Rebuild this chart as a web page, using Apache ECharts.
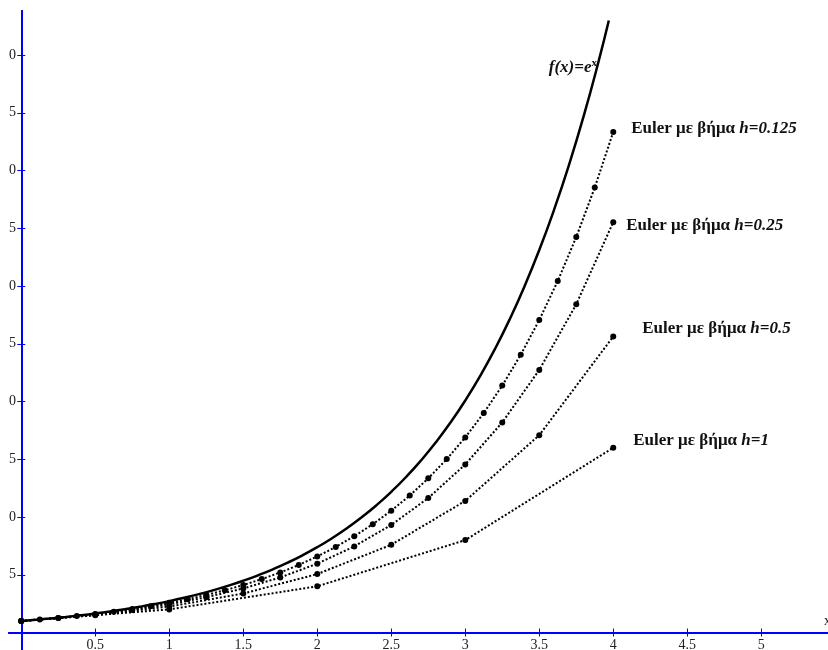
<!DOCTYPE html>
<html>
<head>
<meta charset="utf-8">
<script src="https://cdn.jsdelivr.net/npm/echarts@6/dist/echarts.min.js"></script>
<style>
  html, body { margin: 0; padding: 0; background: #ffffff; }
  #chart { width: 828px; height: 650px; }
</style>
</head>
<body>
<div id="chart"></div>
<script>
// Exact solution f(x) = e^x, sampled along x
const expX = [0, 0.1, 0.2, 0.3, 0.4, 0.5, 0.6, 0.7, 0.8, 0.9, 1.0, 1.1, 1.2, 1.3, 1.4, 1.5, 1.6, 1.7, 1.8, 1.9,
              2.0, 2.1, 2.2, 2.3, 2.4, 2.5, 2.6, 2.7, 2.8, 2.9, 3.0, 3.1, 3.2, 3.3, 3.4, 3.5, 3.6, 3.7, 3.8, 3.9, 3.97];
const expY = [1, 1.1052, 1.2214, 1.3499, 1.4918, 1.6487, 1.8221, 2.0138, 2.2255, 2.4596, 2.7183, 3.0042, 3.3201,
              3.6693, 4.0552, 4.4817, 4.953, 5.4739, 6.0496, 6.6859, 7.3891, 8.1662, 9.025, 9.9742, 11.023, 12.182,
              13.464, 14.88, 16.445, 18.174, 20.086, 22.198, 24.533, 27.113, 29.964, 33.115, 36.598, 40.447,
              44.701, 49.402, 52.985];

// Euler approximations, step h = 1
const eulerX1 = [0, 1, 2, 3, 4];
const eulerY1 = [1, 2, 4, 8, 16];

// step h = 0.5
const eulerX05 = [0, 0.5, 1, 1.5, 2, 2.5, 3, 3.5, 4];
const eulerY05 = [1, 1.5, 2.25, 3.375, 5.0625, 7.594, 11.391, 17.086, 25.629];

// step h = 0.25
const eulerX025 = [0, 0.25, 0.5, 0.75, 1, 1.25, 1.5, 1.75, 2, 2.25, 2.5, 2.75, 3, 3.25, 3.5, 3.75, 4];
const eulerY025 = [1, 1.25, 1.5625, 1.9531, 2.4414, 3.0518, 3.8147, 4.7684, 5.9605, 7.4506, 9.3132, 11.642,
                   14.552, 18.19, 22.737, 28.422, 35.527];

// step h = 0.125
const eulerX0125 = [0, 0.125, 0.25, 0.375, 0.5, 0.625, 0.75, 0.875, 1, 1.125, 1.25, 1.375, 1.5, 1.625, 1.75,
                    1.875, 2, 2.125, 2.25, 2.375, 2.5, 2.625, 2.75, 2.875, 3, 3.125, 3.25, 3.375, 3.5, 3.625,
                    3.75, 3.875, 4];
const eulerY0125 = [1, 1.125, 1.2656, 1.4238, 1.6018, 1.802, 2.0273, 2.2807, 2.5658, 2.8865, 3.2473, 3.6532,
                    4.1099, 4.6236, 5.2016, 5.8518, 6.5833, 7.4062, 8.3319, 9.3734, 10.545, 11.863, 13.346,
                    15.014, 16.891, 19.003, 21.378, 24.05, 27.057, 30.439, 34.244, 38.524, 43.339];

// Axis ticks and their labels
const xTicks = [0.5, 1, 1.5, 2, 2.5, 3, 3.5, 4, 4.5, 5];
const xTickLabels = ['0.5', '1', '1.5', '2', '2.5', '3', '3.5', '4', '4.5', '5'];
const yTicks = [5, 10, 15, 20, 25, 30, 35, 40, 45, 50];
const yTickLabels = ['5', '0', '5', '0', '5', '0', '5', '0', '5', '0'];

// Series captions
const expCaption = 'f(x)=e';
const eulerCaptionText = 'Euler με βήμα ';
const eulerSteps = ['h=1', 'h=0.5', 'h=0.25', 'h=0.125'];

const zip = (xs, ys) => xs.map((x, i) => [x, ys[i]]);

const AXIS_BLUE = '#0000ff';
const SERIF = '"Liberation Serif", "Times New Roman", serif';
const X_MIN = -0.083, X_MAX = 5.451;
const Y_MIN = -1.515, Y_MAX = 53.81;

function xLabel(v) { const i = xTicks.indexOf(v); return i >= 0 ? xTickLabels[i] : ''; }
function yLabel(v) { const i = yTicks.indexOf(v); return i >= 0 ? yTickLabels[i] : ''; }

function baseAxis(extra) {
  return Object.assign({
    type: 'value',
    splitLine: { show: false },
    axisLine: { show: true, onZero: true, onZeroAxisIndex: 0, lineStyle: { color: AXIS_BLUE, width: 2 } },
  }, extra);
}

const eulerRich = {
  a: { fontFamily: SERIF, fontWeight: 'bold', fontSize: 17, color: '#111' },
  b: { fontFamily: SERIF, fontWeight: 'bold', fontStyle: 'italic', fontSize: 17, color: '#111' }
};

function eulerSeries(xs, ys, stepIdx, offset) {
  const data = zip(xs, ys);
  const last = data.length - 1;
  return {
    type: 'line',
    xAxisIndex: 0,
    yAxisIndex: 0,
    data: data.map((p, i) => i === last ? {
      value: p,
      label: {
        show: true,
        position: 'right',
        distance: 0,
        offset: offset,
        formatter: '{a|' + eulerCaptionText + '}{b|' + eulerSteps[stepIdx] + '}',
        rich: eulerRich
      }
    } : p),
    symbol: 'circle',
    symbolSize: 6,
    showSymbol: true,
    itemStyle: { color: '#000' },
    lineStyle: { color: '#000', width: 2, type: [2, 2] },
    z: 3,
    silent: true,
    animation: false
  };
}

const chart = echarts.init(document.getElementById('chart'), null, { renderer: 'canvas' });

chart.setOption({
  backgroundColor: '#ffffff',
  animation: false,
  grid: { left: 9, right: 0, top: 11, bottom: 0, containLabel: false, outerBoundsMode: 'none' },
  xAxis: [
    baseAxis({
      position: 'bottom',
      min: X_MIN, max: X_MAX,
      name: 'x',
      nameLocation: 'end',
      nameGap: -4,
      nameTextStyle: { fontFamily: SERIF, fontSize: 14, color: '#222', align: 'left', verticalAlign: 'bottom', padding: [0, 0, 4, 0] },
      axisTick: { show: true, length: 4, customValues: xTicks, lineStyle: { color: AXIS_BLUE, width: 1 } },
      axisLabel: { show: true, customValues: xTicks, formatter: xLabel, margin: -12, fontFamily: SERIF, fontSize: 14, color: '#222' }
    }),
    baseAxis({
      position: 'top',
      min: X_MIN, max: X_MAX,
      axisTick: { show: true, length: 4, customValues: xTicks, lineStyle: { color: AXIS_BLUE, width: 1 } },
      axisLabel: { show: false }
    })
  ],
  yAxis: [
    baseAxis({
      position: 'left',
      min: Y_MIN, max: Y_MAX,
      axisTick: { show: true, length: 4, customValues: yTicks, lineStyle: { color: AXIS_BLUE, width: 1 } },
      axisLabel: { show: true, customValues: yTicks, formatter: yLabel, margin: -7, fontFamily: SERIF, fontSize: 14, color: '#222' }
    }),
    baseAxis({
      position: 'right',
      min: Y_MIN, max: Y_MAX,
      axisTick: { show: true, length: 4, customValues: yTicks, lineStyle: { color: AXIS_BLUE, width: 1 } },
      axisLabel: { show: false }
    })
  ],
  series: [
    {
      type: 'line',
      xAxisIndex: 0,
      yAxisIndex: 0,
      data: zip(expX, expY).map((p, i) => i === 39 ? {
        value: p,
        label: {
          show: true,
          position: 'left',
          distance: 1,
          offset: [0, 6],
          formatter: '{a|' + expCaption + '}{s|x}',
          rich: {
            a: { fontFamily: SERIF, fontWeight: 'bold', fontStyle: 'italic', fontSize: 17, lineHeight: 20, color: '#111' },
            s: { fontFamily: SERIF, fontWeight: 'bold', fontSize: 11, lineHeight: 11, verticalAlign: 'top', color: '#111' }
          }
        }
      } : p),
      smooth: true,
      showSymbol: true,
      symbol: 'circle',
      symbolSize: 1,
      itemStyle: { color: 'rgba(0,0,0,0)' },
      lineStyle: { color: '#000', width: 2.5 },
      z: 4,
      silent: true,
      animation: false
    },
    eulerSeries(eulerX1, eulerY1, 0, [17, -7]),
    eulerSeries(eulerX05, eulerY05, 1, [26, -8]),
    eulerSeries(eulerX025, eulerY025, 2, [10, 3]),
    eulerSeries(eulerX0125, eulerY0125, 3, [15, -3])
  ]
});
</script>
</body>
</html>
